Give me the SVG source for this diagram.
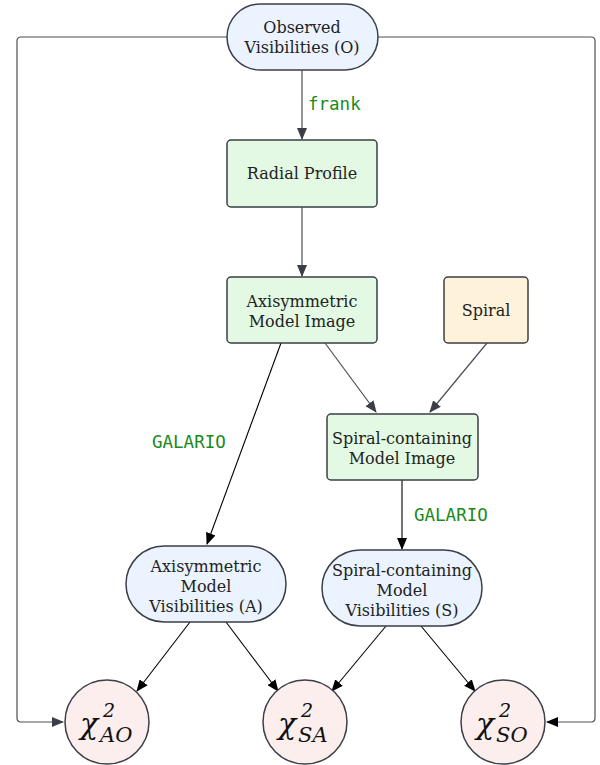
<svg xmlns="http://www.w3.org/2000/svg" width="600" height="765" viewBox="0 0 600 765">
<style>
text.t{font-family:'DejaVu Serif','Liberation Serif',serif;font-size:16px;fill:#222;text-anchor:middle}
text.c{font-family:'DejaVu Serif','Liberation Serif',serif;font-style:italic;fill:#111}
text.lbl{font-family:'DejaVu Sans Mono','Liberation Mono',monospace;font-size:17.5px;fill:#1a8a1a}
.blue{fill:#ebf3ff;stroke:#3a3f47;stroke-width:1.5}
.green{fill:#e3f9e3;stroke:#3a3f47;stroke-width:1.5}
.orange{fill:#fff2da;stroke:#3a3f47;stroke-width:1.5}
.pink{fill:#fdeeee;stroke:#3a3f47;stroke-width:1.5}
.g{fill:none;stroke:#4a4f57;stroke-width:1.2}
.k{fill:none;stroke:#000;stroke-width:1.1}
</style>
<defs>
<marker id="ag" markerWidth="12" markerHeight="10" refX="11" refY="5" orient="auto" markerUnits="userSpaceOnUse"><path d="M0,0 L12,5 L0,10 Z" fill="#3a3f47"/></marker>
<marker id="ak" markerWidth="12" markerHeight="10" refX="11" refY="5" orient="auto" markerUnits="userSpaceOnUse"><path d="M0,0 L12,5 L0,10 Z" fill="#000"/></marker>
</defs>
<g id="connectors">
<path class="g" d="M227,37 H21 Q17,37 17,41 V718 Q17,722 21,722 H63" marker-end="url(#ag)"/>
<path class="g" d="M378,37 H591 Q595,37 595,41 V718 Q595,722 591,722 H547" marker-end="url(#ak)"/>
<line class="g" x1="302" y1="70" x2="302" y2="139" marker-end="url(#ag)"/>
<line class="g" x1="302" y1="207" x2="302" y2="276" marker-end="url(#ag)"/>
<line class="g" x1="325" y1="343" x2="376" y2="412" marker-end="url(#ag)"/>
<line class="g" x1="487" y1="343" x2="430" y2="412" marker-end="url(#ag)"/>
<line class="k" x1="281" y1="343" x2="207" y2="544" marker-end="url(#ak)"/>
<line class="k" x1="402" y1="480" x2="402" y2="549" marker-end="url(#ak)"/>
<line class="k" x1="190" y1="622" x2="137" y2="691" marker-end="url(#ak)"/>
<line class="k" x1="226" y1="622" x2="278" y2="691" marker-end="url(#ak)"/>
<line class="k" x1="386" y1="626" x2="332" y2="691" marker-end="url(#ak)"/>
<line class="k" x1="421" y1="626" x2="475" y2="691" marker-end="url(#ak)"/>
<text class="lbl" x="308" y="110">frank</text>
<text class="lbl" x="152" y="448">GALARIO</text>
<text class="lbl" x="414" y="521">GALARIO</text>
</g>
<g id="observed">
<rect class="blue" x="227" y="4" width="151" height="66" rx="33"/>
<text class="t" x="302" y="33">Observed</text>
<text class="t" x="302" y="53">Visibilities (O)</text>
</g>
<g id="radial">
<rect class="green" x="227" y="140" width="150" height="67" rx="4"/>
<text class="t" x="302" y="179">Radial Profile</text>
</g>
<g id="axiimage">
<rect class="green" x="227" y="277" width="150" height="66" rx="4"/>
<text class="t" x="302" y="307">Axisymmetric</text>
<text class="t" x="302" y="327">Model Image</text>
</g>
<g id="spiral">
<rect class="orange" x="444" y="277" width="84" height="66" rx="4"/>
<text class="t" x="486" y="316">Spiral</text>
</g>
<g id="spiralimage">
<rect class="green" x="327" y="414" width="151" height="66" rx="4"/>
<text class="t" x="402" y="444">Spiral-containing</text>
<text class="t" x="402" y="464">Model Image</text>
</g>
<g id="axivis">
<rect class="blue" x="126" y="546" width="160" height="76" rx="38"/>
<text class="t" x="206" y="572">Axisymmetric</text>
<text class="t" x="206" y="592">Model</text>
<text class="t" x="206" y="612">Visibilities (A)</text>
</g>
<g id="spiralvis">
<rect class="blue" x="322" y="550" width="160" height="76" rx="38"/>
<text class="t" x="402" y="576">Spiral-containing</text>
<text class="t" x="402" y="596">Model</text>
<text class="t" x="402" y="616">Visibilities (S)</text>
</g>
<g id="chiAO">
<circle class="pink" cx="107" cy="722" r="42"/>
<text class="c" x="80" y="734" font-size="30">χ</text>
<text class="c" x="103" y="717" font-size="19">2</text>
<text class="c" x="100" y="742" font-size="21">AO</text>
</g>
<g id="chiSA">
<circle class="pink" cx="305" cy="722" r="42"/>
<text class="c" x="278" y="734" font-size="30">χ</text>
<text class="c" x="301" y="717" font-size="19">2</text>
<text class="c" x="298" y="742" font-size="21">SA</text>
</g>
<g id="chiSO">
<circle class="pink" cx="503" cy="722" r="42"/>
<text class="c" x="476" y="734" font-size="30">χ</text>
<text class="c" x="499" y="717" font-size="19">2</text>
<text class="c" x="496" y="742" font-size="21">SO</text>
</g>
</svg>
